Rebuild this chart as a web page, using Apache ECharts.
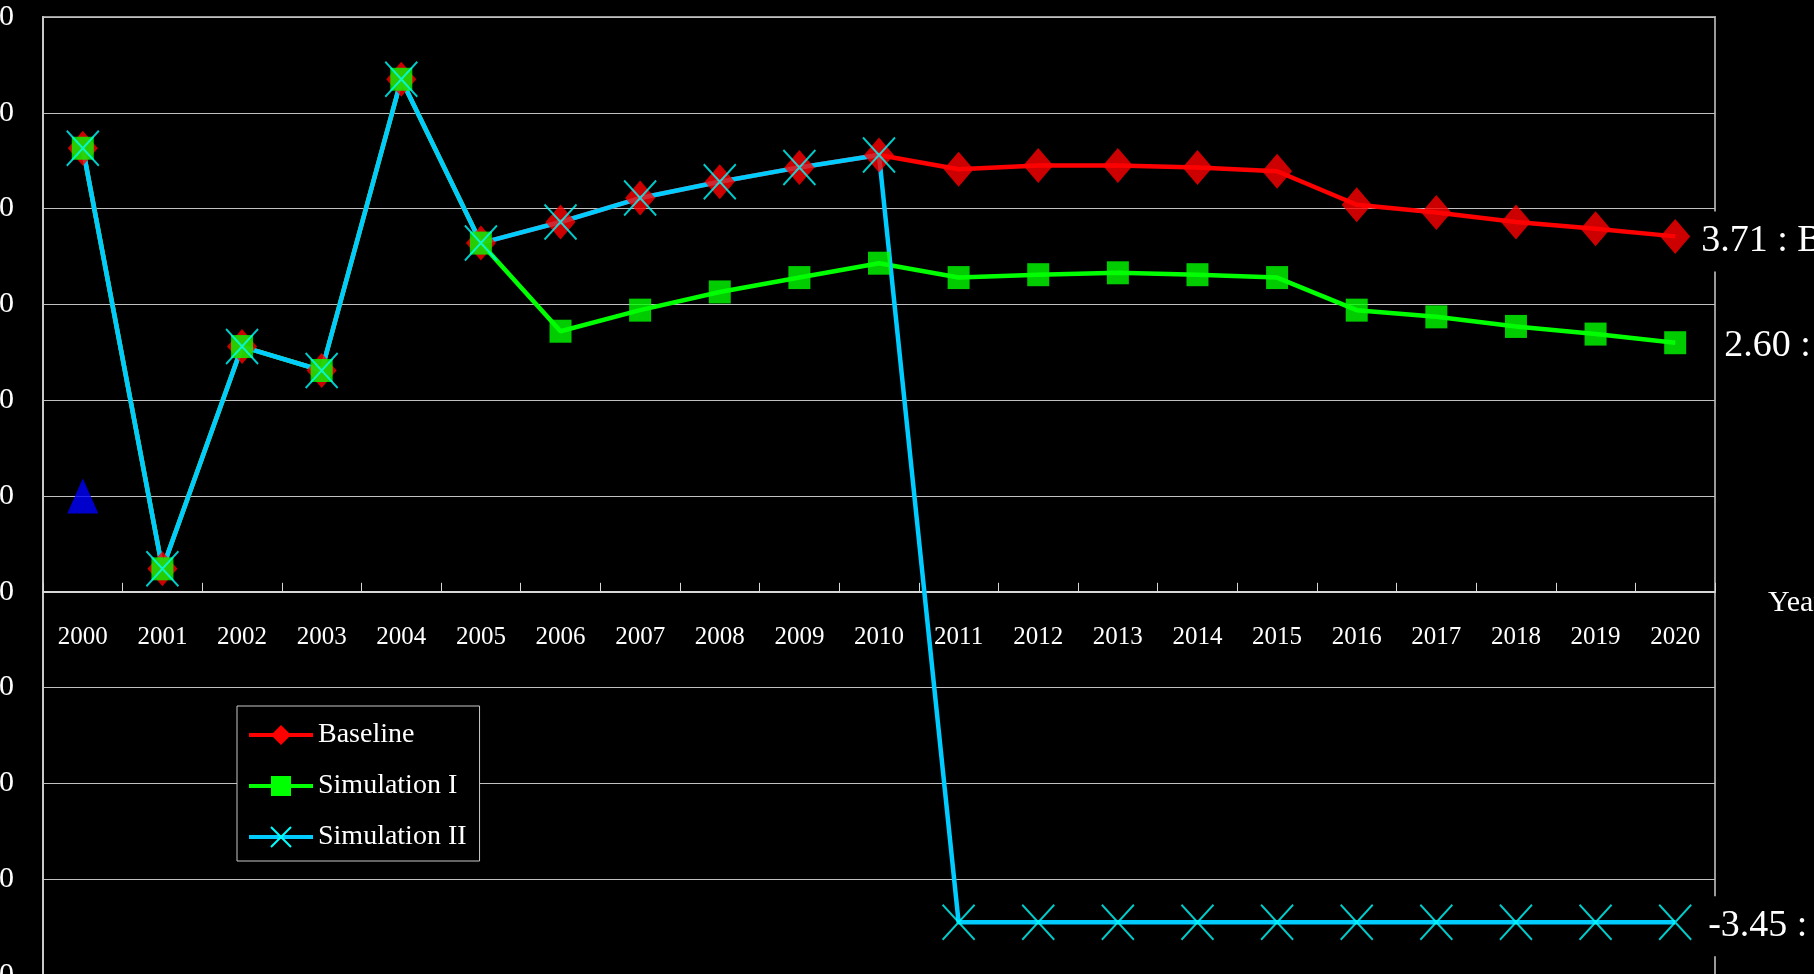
<!DOCTYPE html>
<html>
<head>
<meta charset="utf-8">
<script src="https://cdn.jsdelivr.net/npm/echarts@6/dist/echarts.min.js"></script>
<style>
html,body{margin:0;padding:0;background:#000;}
#chart{width:1814px;height:974px;}
</style>
</head>
<body>
<div id="chart"></div>
<script>
// ---- data ----
const years = ['2000','2001','2002','2003','2004','2005','2006','2007','2008','2009','2010',
               '2011','2012','2013','2014','2015','2016','2017','2018','2019','2020'];
const baseline = [4.63, 0.24, 2.56, 2.31, 5.35, 3.64, 3.86, 4.11, 4.28, 4.43, 4.56,
                  4.41, 4.45, 4.45, 4.43, 4.39, 4.04, 3.96, 3.86, 3.79, 3.71];
const simulation1 = [4.63, 0.24, 2.56, 2.31, 5.35, 3.64, 2.72, 2.94, 3.13, 3.28, 3.43,
                     3.28, 3.31, 3.33, 3.31, 3.28, 2.94, 2.87, 2.77, 2.69, 2.60];
const simulation2 = [4.63, 0.24, 2.56, 2.31, 5.35, 3.64, 3.86, 4.11, 4.28, 4.43, 4.56,
                     -3.45, -3.45, -3.45, -3.45, -3.45, -3.45, -3.45, -3.45, -3.45, -3.45];
const triangleYears = ['2000'];
const triangleValues = [1.0];
const seriesNames = ['Baseline', 'Simulation I', 'Simulation II'];
const yTicks = { min: -4, max: 6, interval: 1 };

// ---- layout / styles ----
const FONT = "'Liberation Serif', 'Times New Roman', serif";
const X_PATH = 'path://M0,0L10,10M10,0L0,10';
const GRID = { left: 43, top: 17, width: 1672, height: 958 };
// place the category axis on the value 0 line (v6 keeps labels at grid bottom otherwise)
const zeroOffset = -GRID.height * (0 - yTicks.min) / (yTicks.max - yTicks.min);

const styles = [
  { line: '#FF0000', symbol: 'diamond', size: [30, 35], item: { color: '#FF0000' } },
  { line: '#00FF00', symbol: 'rect', size: [22, 23], item: { color: '#00FF00' } },
  { line: '#00CCFF', symbol: X_PATH, size: [32, 35],
    item: { color: '#00FFFF', borderColor: '#00FFFF', borderWidth: 2 } }
];
const endLabels = [
  { distance: 22, backgroundColor: '#000', padding: [6, 4, 6, 4], offset: [0, 5] },
  { distance: 49, backgroundColor: 'transparent', padding: [0, 0, 0, 0], offset: [0, 3] },
  { distance: 29, backgroundColor: '#000', padding: [6, 4, 6, 4], offset: [0, 4] }
];
const dataSets = [baseline, simulation1, simulation2];

const lineSeries = dataSets.map((d, i) => ({
  name: seriesNames[i],
  type: 'line',
  data: d,
  z: 2,
  showSymbol: false,
  symbol: styles[i].symbol,
  symbolSize: styles[i].size,
  itemStyle: styles[i].item,
  lineStyle: { color: styles[i].line, width: 4.5 },
  emphasis: { disabled: true },
  endLabel: {
    show: true,
    formatter: p => p.value.toFixed(2) + ' : ' + p.seriesName,
    distance: endLabels[i].distance,
    offset: endLabels[i].offset,
    color: '#fff',
    fontFamily: FONT,
    fontSize: 38,
    lineHeight: 48,
    backgroundColor: endLabels[i].backgroundColor,
    padding: endLabels[i].padding
  }
}));

const markerSeries = dataSets.map((d, i) => ({
  name: seriesNames[i] + ' markers',
  type: 'scatter',
  data: d,
  z: 3,
  symbol: styles[i].symbol,
  symbolSize: styles[i].size,
  itemStyle: styles[i].item,
  emphasis: { disabled: true }
}));

const triangleSeries = {
  name: 'start',
  type: 'scatter',
  z: 3,
  data: triangleYears.map((y, i) => [y, triangleValues[i]]),
  symbol: 'triangle',
  symbolSize: [31, 35],
  itemStyle: { color: '#0000FF' },
  emphasis: { disabled: true }
};

const chart = echarts.init(document.getElementById('chart'), null, { renderer: 'canvas' });
chart.setOption({
  backgroundColor: '#000',
  animation: false,
  textStyle: { fontFamily: FONT },
  grid: Object.assign({
    containLabel: false,
    outerBoundsMode: 'none',
    show: true,
    borderColor: '#9a9a9a',
    borderWidth: 2,
    backgroundColor: 'transparent'
  }, GRID),
  legend: {
    data: seriesNames,
    orient: 'vertical',
    left: 237, top: 706,
    padding: [15, 13, 10, 10],
    itemWidth: 64,
    itemHeight: 25,
    itemGap: 23,
    backgroundColor: '#000',
    borderColor: '#c8c8c8',
    borderWidth: 1,
    borderRadius: 0,
    selectedMode: false,
    lineStyle: { width: 4 },
    textStyle: { color: '#fff', fontSize: 28, fontFamily: FONT }
  },
  xAxis: {
    type: 'category',
    data: years,
    boundaryGap: true,
    position: 'bottom',
    offset: zeroOffset,
    name: 'Year',
    nameLocation: 'end',
    nameGap: 53,
    nameTextStyle: { color: '#fff', fontSize: 30, fontFamily: FONT,
                     align: 'left', verticalAlign: 'top', lineHeight: 22 },
    axisLine: { show: true, onZero: false, lineStyle: { color: '#d8d8d8', width: 2 } },
    axisTick: { show: true, inside: true, length: 9, interval: 0,
                lineStyle: { color: '#d8d8d8', width: 1 } },
    axisLabel: { color: '#fff', fontSize: 25, fontFamily: FONT, margin: 33, interval: 0 },
    splitLine: { show: false }
  },
  yAxis: {
    type: 'value',
    min: yTicks.min, max: yTicks.max, interval: yTicks.interval,
    axisLine: { show: true, lineStyle: { color: '#c8c8c8', width: 2 } },
    axisTick: { show: false },
    axisLabel: { color: '#fff', fontSize: 30, fontFamily: FONT, margin: 29,
                 formatter: v => v.toFixed(1) },
    splitLine: { show: true, lineStyle: { color: '#c0c0c0', width: 1 } }
  },
  series: [...lineSeries, ...markerSeries, triangleSeries]
});
</script>
</body>
</html>
